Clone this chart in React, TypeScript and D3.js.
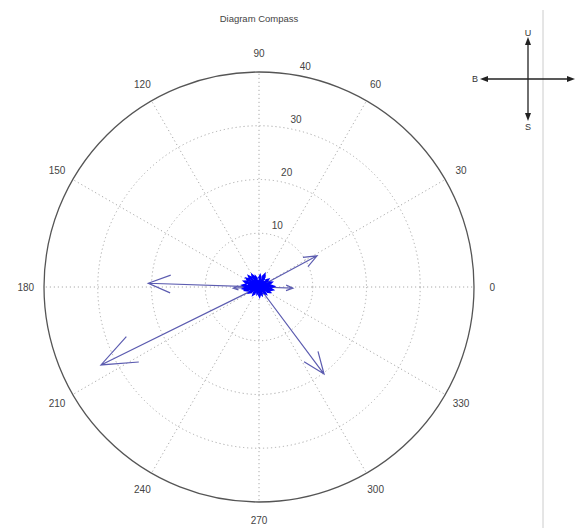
import React from "react";
import * as d3 from "d3";

const title = "Diagram Compass";
const angleTicks = [0, 30, 60, 90, 120, 150, 180, 210, 240, 270, 300, 330];
const ringTicks = [10, 20, 30, 40];
const maxR = 40;

// main vectors (u = east, v = north)
const bigU = [-20.6, -29.4, 10.8, 12.1, 6.3, -4.8];
const bigV = [0.7, -14.5, 5.8, -16.2, -0.2, -0.2];

// small vectors forming the dense blob at the centre
const smallU = [-2.9, -2.6, -2.2, -1.8, -1.2, -0.6, 0.2, 0.9, 1.6, 2.2, 2.6, 2.4, 1.9, 1.2, 0.5, -0.3, -1.0, -1.7, -2.4, -2.8, 1.4, -1.4, 0.6, -0.5, 2.0, -2.0, 0.1, 1.0];
const smallV = [0.3, 1.0, 1.5, 1.9, 2.1, 1.8, 2.0, 1.7, 1.3, 0.8, 0.1, -0.5, -0.9, -1.2, -1.3, -1.1, -1.3, -1.0, -0.6, -0.3, 0.4, 0.6, -0.6, 0.9, 0.2, -0.1, -1.6, 2.2];

const legendLabels = { up: "U", down: "S", left: "B" };

export default function App() {
  const W = 576, H = 528;
  const cx = 259, cy = 287, R = 215;
  const r = d3.scaleLinear().domain([0, maxR]).range([0, R]);
  const font = "'Liberation Sans', Arial, sans-serif";

  const arrowPath = (u: number, v: number) => {
    // MATLAB compass arrow shape
    const a = [0, 1, 0.8, 1, 0.8];
    const b = [0, 0, 0.08, 0, -0.08];
    const pts = a.map((ai, i) => {
      const bi = b[i];
      const x = ai * u - bi * v;
      const y = ai * v + bi * u;
      return [cx + r(x) * (x >= 0 ? 1 : 1), cy - r(y)] as [number, number];
    });
    // r() is linear through 0 so negative values map correctly
    return d3.line()(pts) as string;
  };

  const rad = (deg: number) => (deg * Math.PI) / 180;

  return (
    <svg width={W} height={H} style={{ position: "absolute", left: 0, top: 0, background: "#fff" }} fontFamily={font}>
      <rect x={0} y={0} width={W} height={H} fill="#fff" />
      <text x={cx} y={22} textAnchor="middle" fontSize={9.5} fill="#444">{title}</text>

      {/* grid rings */}
      {ringTicks.slice(0, -1).map((t) => (
        <circle key={t} cx={cx} cy={cy} r={r(t)} fill="none" stroke="#aaa" strokeWidth={1} strokeDasharray="1.2,2.8" />
      ))}
      {/* spokes */}
      {angleTicks.map((a) => (
        <line key={a} x1={cx} y1={cy} x2={cx + R * Math.cos(rad(a))} y2={cy - R * Math.sin(rad(a))}
          stroke="#aaa" strokeWidth={1} strokeDasharray="1.2,2.8" />
      ))}
      <circle cx={cx} cy={cy} r={R} fill="none" stroke="#555" strokeWidth={1.3} />

      {/* angle labels */}
      {angleTicks.map((a) => (
        <text key={a} x={cx + R * 1.085 * Math.cos(rad(a))} y={cy - R * 1.085 * Math.sin(rad(a))}
          textAnchor="middle" dominantBaseline="central" fontSize={10} fill="#444">{a}</text>
      ))}
      {/* ring labels */}
      {ringTicks.map((t) => (
        <text key={t} x={cx + r(t) * Math.cos(rad(80)) + 9} y={cy - r(t) * Math.sin(rad(80)) - 9}
          textAnchor="middle" dominantBaseline="central" fontSize={10} fill="#444">{t}</text>
      ))}

      {/* vectors */}
      {bigU.map((u, i) => (
        <path key={"b" + i} d={arrowPath(u, bigV[i])} fill="none" stroke="#5c5cb0" strokeWidth={1.2} />
      ))}
      {smallU.map((u, i) => (
        <path key={"s" + i} d={arrowPath(u, smallV[i])} fill="none" stroke="#0000ff" strokeWidth={2.5} />
      ))}
      <ellipse cx={cx - 1} cy={cy - 1} rx={11} ry={6} fill="#0000ff" />

      {/* separator */}
      <line x1={543} y1={10} x2={543} y2={528} stroke="#ccc" strokeWidth={1} />

      {/* legend cross */}
      <g stroke="#222" strokeWidth={1.3}>
        <line x1={528} y1={44} x2={528} y2={114} />
        <line x1={487} y1={79} x2={568} y2={79} />
      </g>
      <g fill="#222">
        <polygon points="528,37 525,45 531,45" />
        <polygon points="528,121 525,113 531,113" />
        <polygon points="480,79 488,76 488,82" />
        <polygon points="575,79 567,76 567,82" />
      </g>
      <text x={528} y={33} textAnchor="middle" dominantBaseline="central" fontSize={9} fill="#333">{legendLabels.up}</text>
      <text x={528} y={127} textAnchor="middle" dominantBaseline="central" fontSize={9} fill="#333">{legendLabels.down}</text>
      <text x={475} y={79} textAnchor="middle" dominantBaseline="central" fontSize={9} fill="#333">{legendLabels.left}</text>
    </svg>
  );
}
